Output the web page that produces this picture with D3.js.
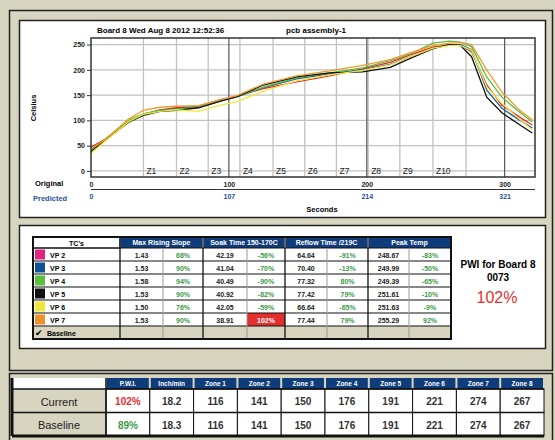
<!DOCTYPE html>
<html>
<head>
<meta charset="utf-8">
<script src="https://cdn.jsdelivr.net/npm/d3@7"></script>
<style>
  body { margin: 0; background: #d7d4bf; }
  text { font-family: "Liberation Sans", Arial, sans-serif; }
</style>
</head>
<body>
<svg id="chart" width="555" height="440"></svg>
<script>
// ---- data ----
const times   = [0, 10, 27, 38, 50, 62, 78, 94, 106, 125, 149, 173, 197, 217, 232, 248, 260, 268, 276, 287, 298, 310, 320];
const tempVP2 = [47, 62, 96, 112, 121, 125, 128, 141, 148, 163, 176, 188, 202, 215, 230, 245, 250, 249, 236, 170, 130, 108, 91];
const tempVP3 = [42, 60, 98, 112, 120, 123, 127, 139, 147, 165, 182, 192, 200, 211, 226, 243, 250, 250, 240, 160, 124, 102, 85];
const tempVP4 = [40, 62, 100, 113, 120, 122, 126, 138, 147, 166, 184, 194, 204, 218, 232, 253, 257, 255, 246, 186, 146, 118, 97];
const tempVP5 = [38, 60, 96, 110, 118, 120, 125, 138, 147, 170, 186, 194, 196, 205, 223, 242, 250, 248, 226, 146, 115, 93, 75];
const tempVP6 = [35, 58, 97, 112, 118, 121, 118, 130, 137, 158, 178, 190, 199, 210, 226, 243, 248, 248, 239, 166, 134, 104, 81];
const tempVP7 = [44, 61, 102, 120, 126, 128, 129, 141, 149, 172, 188, 198, 209, 220, 234, 248, 253, 254, 250, 200, 156, 122, 101];

const seriesNames  = ["VP 2", "VP 3", "VP 4", "VP 5", "VP 6", "VP 7"];
const lineColors   = ["#e8262e", "#1f5fa8", "#5cbf3c", "#111111", "#eeea3a", "#f39a2e"];
const swatchColors = ["#e0237c", "#114f97", "#5cbf3c", "#111111", "#ebe83a", "#f0922c"];

const yTicks         = [0, 50, 100, 150, 200, 250];
const originalTicks  = [0, 100, 200, 300];
const predictedTicks = [0, 107, 214, 321];
const zoneEdges      = [38, 62, 85, 108, 132, 155, 178, 201, 224, 248, 272];
const zoneLabels     = ["Z1", "Z2", "Z3", "Z4", "Z5", "Z6", "Z7", "Z8", "Z9", "Z10"];

const groupHeaders  = ["Max Rising Slope", "Soak Time 150-170C", "Reflow Time /219C", "Peak Temp"];
const maxSlope      = ["1.43", "1.53", "1.58", "1.53", "1.50", "1.53"];
const maxSlopePct   = ["68%", "90%", "94%", "90%", "76%", "90%"];
const soakTime      = ["42.19", "41.04", "40.49", "40.92", "42.05", "38.91"];
const soakPct       = ["-56%", "-70%", "-90%", "-82%", "-59%", "102%"];
const reflowTime    = ["64.64", "70.40", "77.32", "77.42", "66.64", "77.44"];
const reflowPct     = ["-91%", "-13%", "80%", "79%", "-65%", "79%"];
const peakTemp      = ["248.67", "249.99", "249.39", "251.61", "251.63", "255.29"];
const peakPct       = ["-83%", "-50%", "-65%", "-10%", "-9%", "92%"];

const summaryHeaders = ["P.W.I.", "Inch/min", "Zone 1", "Zone 2", "Zone 3", "Zone 4", "Zone 5", "Zone 6", "Zone 7", "Zone 8"];
const currentRow     = ["102%", "18.2", "116", "141", "150", "176", "191", "221", "274", "267"];
const baselineRow    = ["89%", "18.3", "116", "141", "150", "176", "191", "221", "274", "267"];

const tempSeries = [tempVP2, tempVP3, tempVP4, tempVP5, tempVP6, tempVP7];

const beige = "#d7d4bf", navy = "#0f3d7c", green = "#3c9a48", red = "#e3302f";

const svg = d3.select("#chart");

// ---- frames ----
svg.append("rect").attr("x", 9.5).attr("y", 10.5).attr("width", 543).attr("height", 360)
  .attr("fill", beige).attr("stroke", "#222").attr("stroke-width", 1.5);
svg.append("rect").attr("x", 19.5).attr("y", 20.5).attr("width", 526).attr("height", 197)
  .attr("fill", "#fff").attr("stroke", "#222").attr("stroke-width", 1.5);
svg.append("rect").attr("x", 19.5).attr("y", 225.5).attr("width", 526).attr("height", 123)
  .attr("fill", "#fff").attr("stroke", "#222").attr("stroke-width", 1.5);
svg.append("rect").attr("x", 9.5).attr("y", 373.5).attr("width", 543).attr("height", 70)
  .attr("fill", beige).attr("stroke", "#222").attr("stroke-width", 1.5);

// ---- profile chart ----
const plot = { left: 91, right: 535, top: 38, bottom: 177 };
const x = d3.scaleLinear().domain([0, 322]).range([plot.left, plot.right]);
const xPred = d3.scaleLinear().domain([0, 321]).range([x(0), x(300)]);
const y = d3.scaleLinear().domain([-12, 263]).range([plot.bottom, plot.top]);

const g = svg.append("g");

// horizontal grid
g.selectAll(".hgrid").data(yTicks).join("line")
  .attr("x1", plot.left).attr("x2", plot.right)
  .attr("y1", d => y(d)).attr("y2", d => y(d))
  .attr("stroke", "#c2c2c2").attr("stroke-width", 1.3);

// zone grid
g.selectAll(".zgrid").data(zoneEdges).join("line")
  .attr("x1", d => x(d)).attr("x2", d => x(d))
  .attr("y1", plot.top).attr("y2", plot.bottom)
  .attr("stroke", "#c2c2c2").attr("stroke-width", 1.3);

// major vertical lines
g.selectAll(".vmajor").data(originalTicks.slice(1)).join("line")
  .attr("x1", d => x(d)).attr("x2", d => x(d))
  .attr("y1", plot.top).attr("y2", plot.bottom)
  .attr("stroke", "#555").attr("stroke-width", 1.2);

// zone labels
g.selectAll(".zlabel").data(zoneLabels).join("text")
  .attr("x", (d, i) => x(zoneEdges[i]) + 3)
  .attr("y", 174)
  .attr("font-size", 8.5).attr("fill", "#222")
  .text(d => d);

// curves
const line = d3.line().x((d, i) => x(times[i])).y(d => y(d));
g.selectAll(".curve").data(tempSeries).join("path")
  .attr("d", line)
  .attr("fill", "none")
  .attr("stroke", (d, i) => lineColors[i])
  .attr("stroke-width", 1.3);

// plot border
g.append("rect").attr("x", plot.left).attr("y", plot.top)
  .attr("width", plot.right - plot.left).attr("height", plot.bottom - plot.top)
  .attr("fill", "none").attr("stroke", "#333").attr("stroke-width", 1.5);

// y axis
svg.append("g")
  .attr("transform", `translate(${plot.left},0)`)
  .call(d3.axisLeft(y).tickValues(yTicks).tickSize(4).tickPadding(2))
  .call(a => a.select(".domain").remove())
  .call(a => a.selectAll("text").attr("font-size", 7).attr("font-weight", "bold").attr("fill", "#222"))
  .call(a => a.selectAll("line").attr("stroke", "#333"));

svg.append("text")
  .attr("transform", "translate(36,108) rotate(-90)")
  .attr("text-anchor", "middle").attr("font-size", 7.5).attr("font-weight", "bold")
  .text("Celsius");

// original / predicted axes
svg.append("g")
  .attr("transform", `translate(0,${plot.bottom})`)
  .call(d3.axisBottom(x).tickValues(originalTicks).tickSize(0).tickPadding(5))
  .call(a => a.select(".domain").remove())
  .call(a => a.selectAll("text").attr("font-size", 7).attr("font-weight", "bold").attr("fill", "#222"));

svg.append("line").attr("x1", plot.left).attr("x2", plot.right)
  .attr("y1", 189.5).attr("y2", 189.5).attr("stroke", "#333").attr("stroke-width", 1.2);

svg.append("g")
  .attr("transform", "translate(0,191)")
  .call(d3.axisBottom(xPred).tickValues(predictedTicks).tickSize(0).tickPadding(3))
  .call(a => a.select(".domain").remove())
  .call(a => a.selectAll("text").attr("font-size", 7).attr("font-weight", "bold").attr("fill", "#2b4f9e"));

svg.append("text").attr("x", 35).attr("y", 186).attr("font-size", 7.5).attr("font-weight", "bold")
  .text("Original");
svg.append("text").attr("x", 33).attr("y", 201).attr("font-size", 7.5).attr("font-weight", "bold")
  .attr("fill", "#2b4f9e").text("Predicted");
svg.append("text").attr("x", 322).attr("y", 212).attr("text-anchor", "middle")
  .attr("font-size", 7.5).attr("font-weight", "bold").text("Seconds");

svg.append("text").attr("x", 97).attr("y", 33).attr("font-size", 8).attr("font-weight", "bold")
  .text("Board 8 Wed Aug 8 2012 12:52:36");
svg.append("text").attr("x", 286).attr("y", 33).attr("font-size", 8).attr("font-weight", "bold")
  .text("pcb assembly-1");

// ---- TC table ----
const colX = [33, 120, 163, 203, 247, 285, 327, 368, 409, 451];
const tTop = 237, headH = 11, rowH = 13;
const tg = svg.append("g");
const columns = [maxSlope, maxSlopePct, soakTime, soakPct, reflowTime, reflowPct, peakTemp, peakPct];

// header
tg.append("rect").attr("x", colX[0]).attr("y", tTop).attr("width", colX[1] - colX[0]).attr("height", headH)
  .attr("fill", "#fff").attr("stroke", "#111");
tg.append("text").attr("x", (colX[0] + colX[1]) / 2).attr("y", tTop + 8.5).attr("text-anchor", "middle")
  .attr("font-size", 7).attr("font-weight", "bold").text("TC's");
tg.selectAll(".gh").data(groupHeaders).join("rect")
  .attr("x", (d, i) => colX[1 + i * 2] + 1).attr("y", tTop)
  .attr("width", (d, i) => colX[3 + i * 2] - colX[1 + i * 2] - 2).attr("height", headH)
  .attr("fill", navy);
tg.selectAll(".ght").data(groupHeaders).join("text")
  .attr("x", (d, i) => (colX[1 + i * 2] + colX[3 + i * 2]) / 2).attr("y", tTop + 8.3)
  .attr("text-anchor", "middle").attr("font-size", 7).attr("font-weight", "bold").attr("fill", "#fff")
  .text(d => d);

// body rows
const bodyTop = tTop + headH;
seriesNames.forEach((name, r) => {
  const ry = bodyTop + r * rowH;
  tg.append("rect").attr("x", colX[0] + 2).attr("y", ry + 1.5).attr("width", 10).attr("height", rowH - 3)
    .attr("fill", swatchColors[r]);
  tg.append("text").attr("x", colX[0] + 17).attr("y", ry + 9.5).attr("font-size", 7).attr("font-weight", "bold")
    .text(name);
  columns.forEach((col, c) => {
    const cx0 = colX[1 + c], cx1 = colX[2 + c];
    const v = col[r];
    const isPct = c % 2 === 1;
    const alarm = isPct && parseFloat(v) > 100;
    if (alarm) {
      tg.append("rect").attr("x", cx0).attr("y", ry).attr("width", cx1 - cx0).attr("height", rowH).attr("fill", red);
    }
    tg.append("text").attr("x", (cx0 + cx1) / 2).attr("y", ry + 9.5).attr("text-anchor", "middle")
      .attr("font-size", 7).attr("font-weight", "bold")
      .attr("fill", alarm ? "#fff" : (isPct ? green : "#222"))
      .text(v);
  });
});

// baseline row
const baseY = bodyTop + seriesNames.length * rowH;
tg.append("rect").attr("x", colX[0]).attr("y", baseY).attr("width", colX[9] - colX[0]).attr("height", rowH)
  .attr("fill", beige);
tg.append("text").attr("x", colX[0] + 2).attr("y", baseY + 10).attr("font-size", 9).attr("font-family", "DejaVu Sans")
  .text("\u2714");
tg.append("text").attr("x", colX[0] + 14).attr("y", baseY + 9.5).attr("font-size", 7).attr("font-weight", "bold")
  .text("Baseline");

const tBottom = baseY + rowH;
// row lines
d3.range(seriesNames.length + 1).forEach(r => {
  const ly = bodyTop + r * rowH;
  tg.append("line").attr("x1", colX[0]).attr("x2", colX[9]).attr("y1", ly).attr("y2", ly)
    .attr("stroke", "#111").attr("stroke-width", 1.2);
});
// column lines
colX.slice(1, 9).forEach((cx, i) => {
  const major = i % 2 === 0;
  tg.append("line").attr("x1", cx).attr("x2", cx)
    .attr("y1", major ? tTop : bodyTop).attr("y2", tBottom)
    .attr("stroke", major ? "#111" : "#999").attr("stroke-width", major ? 1.3 : 1);
});
tg.append("rect").attr("x", colX[0]).attr("y", tTop).attr("width", colX[9] - colX[0]).attr("height", tBottom - tTop)
  .attr("fill", "none").attr("stroke", "#111").attr("stroke-width", 2);

// PWI block
svg.append("text").attr("x", 498).attr("y", 268).attr("text-anchor", "middle")
  .attr("font-size", 10).attr("font-weight", "bold").text("PWI for Board 8");
svg.append("text").attr("x", 498).attr("y", 281).attr("text-anchor", "middle")
  .attr("font-size", 10).attr("font-weight", "bold").text("0073");
svg.append("text").attr("x", 497).attr("y", 303).attr("text-anchor", "middle")
  .attr("font-size", 16).attr("fill", red).text(currentRow[0]);

// ---- summary table ----
const sLeft = 12, sLabelW = 94, sColW = 43.8, sTop = 378, sHeadH = 11, sRowH = 23.5;
const sg = svg.append("g");
const sx = i => sLeft + sLabelW + i * sColW;
sg.append("rect").attr("x", sLeft).attr("y", sTop).attr("width", sLabelW).attr("height", sHeadH).attr("fill", "#fff");
sg.selectAll(".sh").data(summaryHeaders).join("rect")
  .attr("x", (d, i) => sx(i) + 1).attr("y", sTop).attr("width", sColW - 2).attr("height", sHeadH).attr("fill", navy);
sg.selectAll(".sht").data(summaryHeaders).join("text")
  .attr("x", (d, i) => sx(i) + sColW / 2).attr("y", sTop + 8)
  .attr("text-anchor", "middle").attr("font-size", 6.5).attr("font-weight", "bold").attr("fill", "#fff")
  .text(d => d);

[["Current", currentRow, red], ["Baseline", baselineRow, green]].forEach(([label, row, pwiColor], r) => {
  const ry = sTop + sHeadH + r * sRowH;
  sg.append("rect").attr("x", sLeft).attr("y", ry).attr("width", sLabelW).attr("height", sRowH).attr("fill", beige);
  sg.append("text").attr("x", sLeft + sLabelW / 2).attr("y", ry + (r === 0 ? 16.5 : 16))
    .attr("text-anchor", "middle").attr("font-size", 11).attr("fill", "#222").text(label);
  sg.selectAll(".cell" + r).data(row).join("rect")
    .attr("x", (d, i) => sx(i)).attr("y", ry).attr("width", sColW).attr("height", sRowH)
    .attr("fill", "#fff").attr("stroke", "#111").attr("stroke-width", 1);
  sg.selectAll(".val" + r).data(row).join("text")
    .attr("x", (d, i) => sx(i) + sColW / 2).attr("y", ry + 16)
    .attr("text-anchor", "middle").attr("font-size", 10).attr("font-weight", "bold")
    .attr("fill", (d, i) => i === 0 ? pwiColor : "#333")
    .text(d => d);
  sg.append("line").attr("x1", sLeft).attr("x2", sx(10)).attr("y1", ry).attr("y2", ry)
    .attr("stroke", "#111").attr("stroke-width", 1.5);
});
const sBottom = sTop + sHeadH + 2 * sRowH;
sg.append("line").attr("x1", sLeft).attr("x2", sLeft).attr("y1", sTop).attr("y2", sBottom)
  .attr("stroke", "#111").attr("stroke-width", 3);
sg.append("line").attr("x1", sLeft).attr("x2", sx(10)).attr("y1", sBottom).attr("y2", sBottom)
  .attr("stroke", "#111").attr("stroke-width", 3);
sg.append("line").attr("x1", sx(0)).attr("x2", sx(0)).attr("y1", sTop).attr("y2", sBottom)
  .attr("stroke", "#111").attr("stroke-width", 1.5);
</script>
</body>
</html>
